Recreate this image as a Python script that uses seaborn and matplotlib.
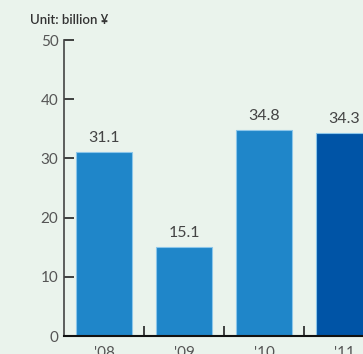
import pandas as pd
import seaborn as sns
import matplotlib.pyplot as plt
from matplotlib.ticker import FixedLocator

years = ["'08", "'09", "'10", "'11"]
values = [31.1, 15.1, 34.8, 34.3]
bar_colors = ["#1f86c9", "#1f86c9", "#1f86c9", "#0054a6"]
value_labels = ["31.1", "15.1", "34.8", "34.3"]

bg = "#eaf3ec"

sns.set_style("ticks")
plt.rcParams['font.family'] = ['Lato', 'DejaVu Sans']

df = pd.DataFrame({"year": years, "value": values})

fig = plt.figure(figsize=(3.63, 3.54), dpi=100, facecolor=bg)
ax = fig.add_axes([64 / 363, 18 / 354, 1 - 64 / 363, 296 / 354])
ax.set_facecolor(bg)

sns.barplot(data=df, x="year", y="value", hue="year", palette=bar_colors,
            width=0.69, legend=False, ax=ax, saturation=1,
            edgecolor="#8cc6ea", linewidth=0.8)

for i, lab in enumerate(value_labels):
    ax.text(i, values[i] + 1.2, lab, ha="center", va="bottom",
            fontsize=11.5, color="#444444")

ax.set_xlim(-0.5, 3.2375)
ax.set_ylim(0, 50)
ax.set_yticks([0, 10, 20, 30, 40, 50])
ax.tick_params(axis="y", direction="in", length=7, width=1.2, color="#222222",
               labelsize=11, labelcolor="#555555", pad=4)
ax.tick_params(axis="x", which="major", length=0, labelsize=11,
               labelcolor="#555555", pad=7)
ax.xaxis.set_minor_locator(FixedLocator([0.5, 1.5, 2.5]))
ax.tick_params(axis="x", which="minor", direction="in", length=7, width=1.2,
               color="#222222")

sns.despine(ax=ax, top=True, right=True)
ax.spines["left"].set_color("#444444")
ax.spines["left"].set_linewidth(1.2)
ax.spines["bottom"].set_color("#111111")
ax.spines["bottom"].set_linewidth(1.5)
ax.set_xlabel("")
ax.set_ylabel("")

fig.text(30 / 363, 1 - 20 / 354, "Unit: billion ¥", fontsize=9.5,
         fontweight="semibold", color="#333333", va="center", ha="left")

fig.savefig("out.png", dpi=100, facecolor=bg)
